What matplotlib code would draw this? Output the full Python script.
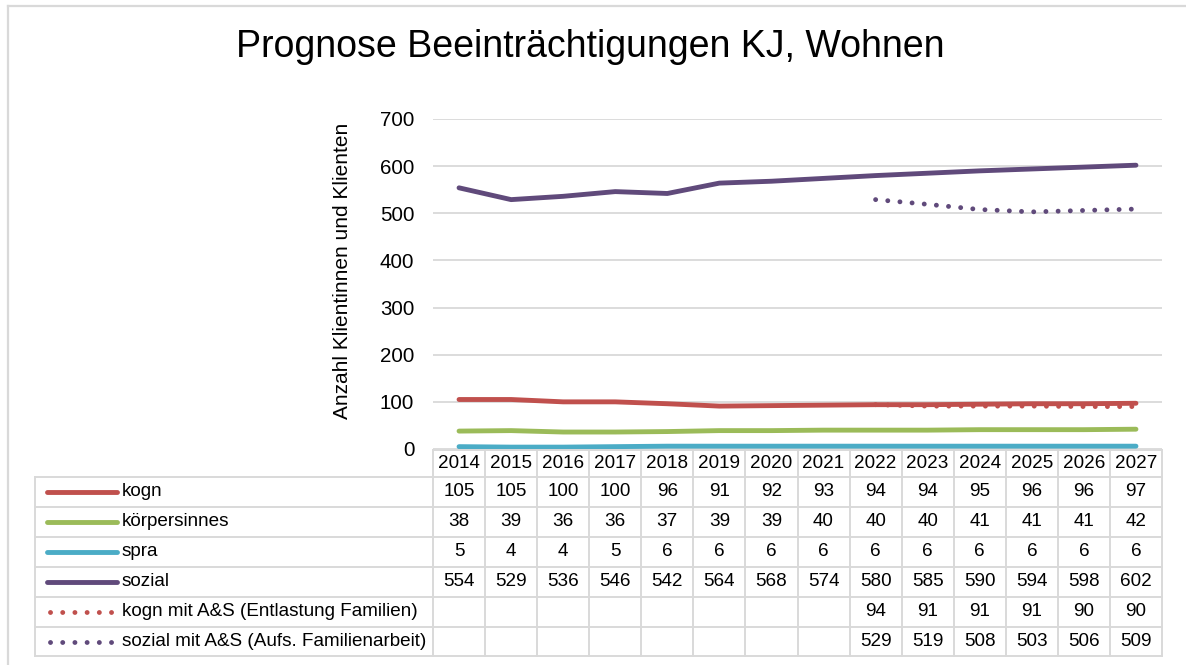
import matplotlib
matplotlib.use("Agg")
import matplotlib.pyplot as plt
import matplotlib.transforms as mtransforms
from matplotlib.lines import Line2D

plt.rcParams['font.family'] = ['Liberation Sans', 'DejaVu Sans']

# ---------------- data ----------------
years = ["2014", "2015", "2016", "2017", "2018", "2019", "2020",
         "2021", "2022", "2023", "2024", "2025", "2026", "2027"]
kogn = [105, 105, 100, 100, 96, 91, 92, 93, 94, 94, 95, 96, 96, 97]
koerpersinnes = [38, 39, 36, 36, 37, 39, 39, 40, 40, 40, 41, 41, 41, 42]
spra = [5, 4, 4, 5, 6, 6, 6, 6, 6, 6, 6, 6, 6, 6]
sozial = [554, 529, 536, 546, 542, 564, 568, 574, 580, 585, 590, 594, 598, 602]
kogn_as = [None] * 8 + [94, 91, 91, 91, 90, 90]
sozial_as = [None] * 8 + [529, 519, 508, 503, 506, 509]

series_names = ["kogn", "körpersinnes", "spra", "sozial",
                "kogn mit A&S (Entlastung Familien)",
                "sozial mit A&S (Aufs. Familienarbeit)"]
series_values = [kogn, koerpersinnes, spra, sozial, kogn_as, sozial_as]
series_colors = ["#C0504D", "#9BBB59", "#4BACC6", "#604A7B", "#C0504D", "#604A7B"]
series_dotted = [False, False, False, False, True, True]

title = "Prognose Beeinträchtigungen KJ, Wohnen"
ylabel = "Anzahl Klientinnen und Klienten"
yticks = [0, 100, 200, 300, 400, 500, 600, 700]

# ---------------- figure ----------------
W, H = 1186, 665
fig = plt.figure(figsize=(W / 100, H / 100), dpi=100)
fig.patch.set_facecolor("white")

def fx(px):
    return px / W

def fy(py):
    return 1 - py / H

ax_left, ax_right, ax_top, ax_bottom = 433, 1162, 119, 449
ax = fig.add_axes([fx(ax_left), fy(ax_bottom), fx(ax_right - ax_left),
                   (ax_bottom - ax_top) / H])

x = list(range(len(years)))
LW = 3.5
DOT = (0, (0.01, 2.5))
for name, vals, col, dotted in zip(series_names, series_values,
                                   series_colors, series_dotted):
    xs = [xi for xi, v in zip(x, vals) if v is not None]
    ys = [v for v in vals if v is not None]
    ax.plot(xs, ys, color=col, lw=LW, solid_capstyle="round",
            dash_capstyle="round", linestyle=DOT if dotted else "-",
            clip_on=False, zorder=3)

ax.set_xlim(-0.5, len(years) - 0.5)
ax.set_ylim(0, 700)
ax.set_yticks(yticks)
ax.set_xticks([])
for s in ax.spines.values():
    s.set_visible(False)
ax.grid(axis="y", color="#D9D9D9", lw=1.3, zorder=0)
ax.set_axisbelow(True)
ax.tick_params(axis="y", length=0, pad=13.5, labelsize=14.8, labelcolor="#000000")

fig.text(fx(343), fy(271), ylabel, rotation=90, ha="center", va="center",
         fontsize=15)
fig.text(fx(590), fy(47), title, ha="center", va="center", fontsize=27)

# outer chart border (left and top visible)
fig.add_artist(Line2D([fx(8), fx(8)], [fy(6), fy(H + 5)], color="#D9D9D9",
                      lw=1.6, transform=fig.transFigure))
fig.add_artist(Line2D([fx(8), fx(W + 5)], [fy(6), fy(6)], color="#D9D9D9",
                      lw=1.6, transform=fig.transFigure))

# ---------------- data table ----------------
blend = mtransforms.blended_transform_factory(ax.transData, fig.transFigure)
grid_c = "#D9D9D9"
glw = 1.4
header_top = 450
row_edges = [477, 507, 537, 567, 597, 627, 656]
tab_left = 35
n = len(years)

# vertical lines for data columns
for i in range(n + 1):
    fig.add_artist(Line2D([i - 0.5, i - 0.5], [fy(header_top), fy(row_edges[-1])],
                          color=grid_c, lw=glw, transform=blend))
# horizontal lines data columns
for yv in [header_top] + row_edges:
    fig.add_artist(Line2D([-0.5, n - 0.5], [fy(yv), fy(yv)],
                          color=grid_c, lw=glw, transform=blend))
# legend column lines
for yv in row_edges:
    fig.add_artist(Line2D([fx(tab_left), fx(ax_left)], [fy(yv), fy(yv)],
                          color=grid_c, lw=glw, transform=fig.transFigure))
fig.add_artist(Line2D([fx(tab_left), fx(tab_left)], [fy(row_edges[0]), fy(row_edges[-1])],
                      color=grid_c, lw=glw, transform=fig.transFigure))

FS = 13.6
# header
for i, yr in enumerate(years):
    fig.text(i, fy((header_top + row_edges[0]) / 2), yr, transform=blend,
             ha="center", va="center", fontsize=FS)

# rows
for r, (name, vals, col, dotted) in enumerate(zip(series_names, series_values,
                                                  series_colors, series_dotted)):
    yc = fy((row_edges[r] + row_edges[r + 1]) / 2)
    if dotted:
        fig.add_artist(Line2D([fx(50), fx(112)], [yc, yc], color=col, lw=LW,
                              linestyle=DOT, dash_capstyle="round",
                              transform=fig.transFigure))
    else:
        fig.add_artist(Line2D([fx(47), fx(117)], [yc, yc], color=col, lw=LW,
                              solid_capstyle="round", transform=fig.transFigure))
    fig.text(fx(122), yc, name, ha="left", va="center", fontsize=FS)
    for i, v in enumerate(vals):
        if v is not None:
            fig.text(i, yc, str(v), transform=blend, ha="center", va="center",
                     fontsize=FS)

fig.savefig("out.png", dpi=100, facecolor="white")
